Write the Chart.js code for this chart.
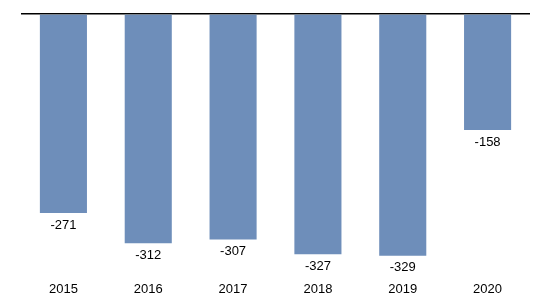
<!DOCTYPE html>
<html>
<head>
<meta charset="utf-8">
<script src="https://cdn.jsdelivr.net/npm/chart.js@4/dist/chart.umd.min.js"></script>
<style>
  html, body { margin: 0; padding: 0; background: #fff; }
  #wrap { width: 540px; height: 307px; }
</style>
</head>
<body>
<div id="wrap"><canvas id="chart"></canvas></div>
<script>
const years = ['2015', '2016', '2017', '2018', '2019', '2020'];
const values = [-271, -312, -307, -327, -329, -158];

// draws the value below each bar end
const valueLabels = {
    id: 'valueLabels',
    afterDatasetsDraw(chart) {
        const ctx = chart.ctx;
        const meta = chart.getDatasetMeta(0);
        ctx.save();
        ctx.font = '13px "Liberation Sans", Arial, sans-serif';
        ctx.fillStyle = '#000';
        ctx.textAlign = 'center';
        ctx.textBaseline = 'middle';
        meta.data.forEach((bar, i) => {
            ctx.fillText(values[i], bar.x, bar.y + 12);
        });
        ctx.restore();
    }
};

new Chart(document.getElementById('chart'), {
    type: 'bar',
    data: {
        labels: years,
        datasets: [{
            data: values,
            backgroundColor: '#6E8EBA',
            borderWidth: 0,
            categoryPercentage: 1,
            barPercentage: 0.555,
        }],
    },
    options: {
        responsive: true,
        maintainAspectRatio: false,
        animation: false,
        layout: { padding: { left: 21, right: 10, top: 14, bottom: 10 } },
        plugins: { legend: { display: false }, tooltip: { enabled: false } },
        scales: {
            x: {
                grid: { display: false, drawTicks: false },
                border: { display: false },
                ticks: {
                    padding: 0,
                    color: '#000',
                    font: { family: '"Liberation Sans", Arial, sans-serif', size: 13 },
                },
            },
            y: {
                min: -364,
                max: 0,
                grid: {
                    drawTicks: false,
                    color: ctx => ctx.tick.value === 0 ? '#000' : 'rgba(0,0,0,0)',
                    lineWidth: 1.5,
                },
                border: { display: false },
                ticks: { display: false, stepSize: 364 },
            },
        },
    },
    plugins: [valueLabels],
});
</script>
</body>
</html>
